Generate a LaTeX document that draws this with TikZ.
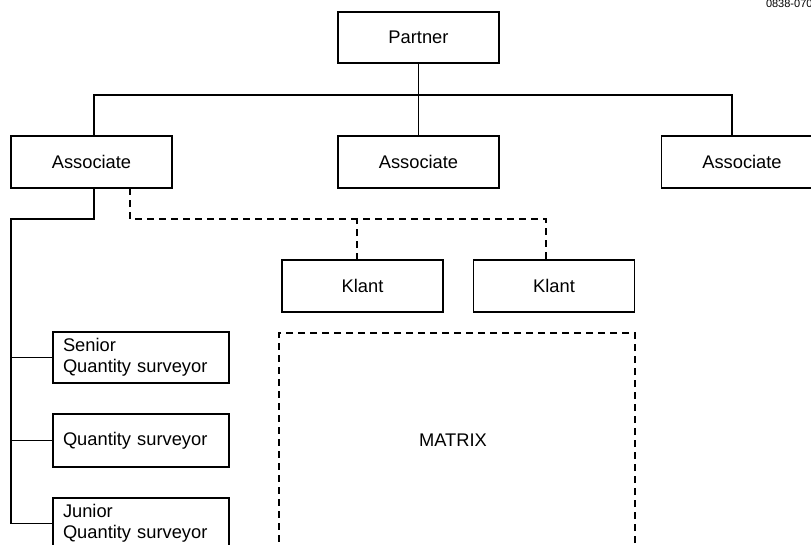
\documentclass[tikz,border=0pt]{standalone}
\usepackage{fontspec}
\setmainfont{Liberation Sans}
\usepackage{tikz}
\usetikzlibrary{calc}

\begin{document}
\begin{tikzpicture}[x=1pt, y=-1pt, inner sep=0pt, outer sep=0pt,
    line width=1.7pt,
    orgbox/.style={draw, minimum width=161pt, minimum height=52pt,
        font=\fontsize{18.3}{21}\selectfont},
    staffbox/.style={draw, minimum width=176pt, minimum height=52pt,
        inner xsep=10pt, text width=156pt, align=left,
        font=\fontsize{18.3}{21}\selectfont},
    dashline/.style={dash pattern=on 7pt off 5pt}]
    \useasboundingbox (0,0) rectangle (811,544);
    \clip (0,0) rectangle (811,544);

    % top level
    \node[orgbox, minimum height=51pt] (partner) at (418.5, 37.5) {Partner};
    \node[anchor=base west, font=\fontsize{11}{12}\selectfont] (code)
    at (766, 7) {0838-070};

    % associates
    \node[orgbox] (assoc_l) at (91.5, 162) {Associate};
    \node[orgbox] (assoc_m) at (418.5, 162) {Associate};
    \node[orgbox] (assoc_r) at (742, 162) {Associate};

    \coordinate (bus) at (418.5, 95);
    \draw (partner.south) -- (assoc_m.north);
    \draw ([xshift=2.5pt]assoc_l.north) |- (bus)
        -| ([xshift=-10pt]assoc_r.north);

    % clients
    \node[orgbox] (klant_a) at (362.5, 286) {Klant};
    \node[orgbox] (klant_b) at (554, 286) {Klant};

    \coordinate (dash_bus) at (130, 219);
    \draw[dashline] ([xshift=38.5pt]assoc_l.south) -- (dash_bus)
        -| ([xshift=-8pt]klant_b.north);
    \draw[dashline] ([xshift=-5.5pt]klant_a.north)
        -- ([xshift=-5.5pt]klant_a.north |- dash_bus);

    % matrix
    \node[draw, dashline, minimum width=356pt, minimum height=214pt,
        font=\fontsize{18.3}{21}\selectfont] (matrix) at (457, 440)
    {\hspace*{-8pt}MATRIX};

    % surveyors
    \node[staffbox, minimum height=51pt] (senior) at (141, 357.5)
    {Senior\\Quantity surveyor};
    \node[staffbox, minimum height=53pt] (qs) at (141, 440.5)
    {Quantity surveyor};
    \node[staffbox, minimum height=51pt] (junior) at (141, 523.5)
    {Junior\\Quantity surveyor};

    \coordinate (trunk) at (11, 219);
    \draw ([xshift=2.5pt]assoc_l.south) |- (trunk) |- (junior.west);
    \draw (trunk |- senior.west) -- (senior.west);
    \draw (trunk |- qs.west) -- (qs.west);

\end{tikzpicture}
\end{document}
